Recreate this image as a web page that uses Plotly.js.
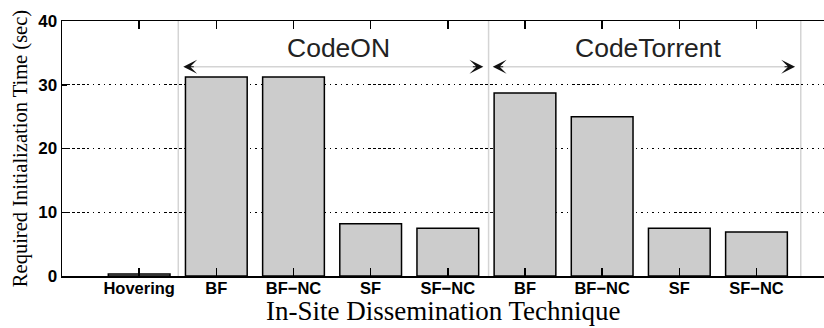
<!DOCTYPE html>
<html>
<head>
<meta charset="utf-8">
<script src="https://cdn.plot.ly/plotly-3.0.1.min.js"></script>
<style>html,body{margin:0;padding:0;background:#fff;overflow:hidden}#chart{width:824px;height:328px}</style>
</head>
<body>
<div id="chart"></div>
<script>
// ---- data ----
const categories = ["Hovering", "BF", "BF\u2212NC", "SF", "SF\u2212NC", "BF", "BF\u2212NC", "SF", "SF\u2212NC"];
const initTime = [0.3, 31.2, 31.2, 8.2, 7.5, 28.7, 25.0, 7.5, 6.9];
const groupNames = ["CodeON", "CodeTorrent"];
const yTicks = [0, 10, 20, 30, 40];
const xTitle = "In-Site Dissemination Technique";
const yTitle = "Required Initialization Time (sec)";

const xPos = categories.map((_, i) => i + 1);

// gridline dash: dashes then dots (MATLAB-like)
const dashParts = [];
for (let i = 0; i < 5; i++) dashParts.push("3px", "2px");
for (let i = 0; i < 14; i++) dashParts.push("1.5px", "4px");
const gridDash = dashParts.join(",");

const trace = {
  type: "bar",
  x: xPos,
  y: initTime,
  width: 0.8,
  marker: { color: "#cccccc", line: { color: "#000000", width: 1.5 } },
  hoverinfo: "skip"
};

const arrowY = 32.83;
const sepColor = "#d4d4d4";
const shapes = [
  // group separators
  { type: "line", xref: "x", yref: "y", x0: 1.507, x1: 1.507, y0: 0, y1: 40, line: { color: sepColor, width: 1.5 }, layer: "below" },
  { type: "line", xref: "x", yref: "y", x0: 5.528, x1: 5.528, y0: 0, y1: 40, line: { color: sepColor, width: 1.5 }, layer: "below" },
  { type: "line", xref: "x", yref: "y", x0: 9.574, x1: 9.574, y0: 0, y1: 40, line: { color: sepColor, width: 1.5 }, layer: "below" },
  // arrow shafts
  { type: "line", xref: "x", yref: "y", x0: 1.60, x1: 5.43, y0: arrowY, y1: arrowY, line: { color: sepColor, width: 1.5 } },
  { type: "line", xref: "x", yref: "y", x0: 5.61, x1: 9.47, y0: arrowY, y1: arrowY, line: { color: sepColor, width: 1.5 } }
];

function head(x, dir) {
  return {
    x: x, y: arrowY, xref: "x", yref: "y",
    ax: dir * 12, ay: 0, text: "", showarrow: true,
    arrowhead: 3, arrowsize: 2.1, arrowwidth: 1.1, arrowcolor: "#111", standoff: 0
  };
}

const annotations = [
  head(1.572, 1), head(5.46, -1), head(5.582, 1), head(9.5, -1),
  { x: 3.577, y: 35.76, xref: "x", yref: "y", text: groupNames[0], showarrow: false,
    font: { family: "Liberation Sans, Arial, sans-serif", size: 26.5, color: "#222" } },
  { x: 7.594, y: 35.76, xref: "x", yref: "y", text: groupNames[1], showarrow: false,
    font: { family: "Liberation Sans, Arial, sans-serif", size: 26.5, color: "#222" } },
  // x-axis title
  { x: 0.5, y: 0, xref: "paper", yref: "paper", text: xTitle, showarrow: false,
    xanchor: "center", yanchor: "bottom", yshift: -52,
    font: { family: "Liberation Serif, Times New Roman, serif", size: 27, color: "#000" } }
];

const layout = {
  width: 824, height: 328,
  margin: { l: 62, r: 0, t: 21, b: 52, pad: 0 },
  paper_bgcolor: "#ffffff", plot_bgcolor: "#ffffff",
  showlegend: false,
  bargap: 0.2,
  xaxis: {
    range: [0, 9.875], tickvals: xPos, ticktext: categories,
    ticks: "inside", ticklen: 8, tickwidth: 1.5, tickcolor: "#000",
    showline: true, linecolor: "#000", linewidth: 1.5, mirror: "ticks",
    showgrid: false, zeroline: false, ticklabelstandoff: -3,
    tickfont: { family: "Liberation Sans, Arial, sans-serif", size: 16.5, weight: "bold", color: "#000" }
  },
  yaxis: {
    range: [0, 40], tickvals: yTicks,
    ticks: "inside", ticklen: 5, tickwidth: 1.5, tickcolor: "#000",
    showline: true, linecolor: "#000", linewidth: 1.5, mirror: false,
    showgrid: true, gridcolor: "#000", gridwidth: 1.2, griddash: gridDash,
    zeroline: false,
    tickfont: { family: "Liberation Sans, Arial, sans-serif", size: 17, weight: "bold", color: "#000" },
    title: { text: yTitle, standoff: 5, font: { family: "Liberation Serif, Times New Roman, serif", size: 20.5, color: "#000" } }
  },
  shapes: shapes,
  annotations: annotations
};

Plotly.newPlot("chart", [trace], layout, { displayModeBar: false, staticPlot: true });
</script>
</body>
</html>
